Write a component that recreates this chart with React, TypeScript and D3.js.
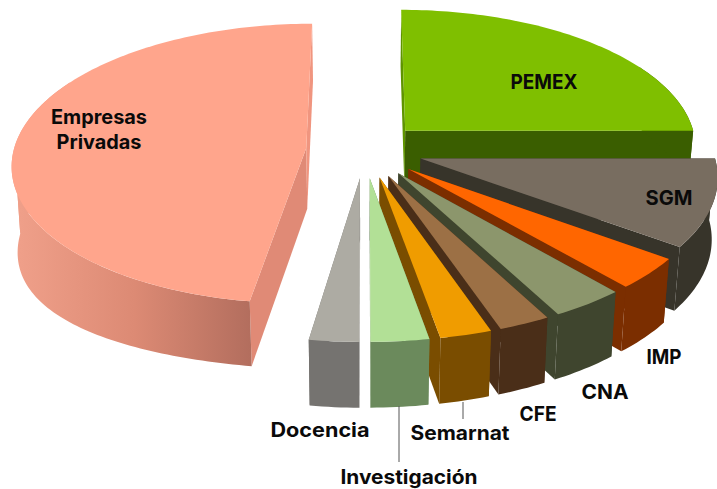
import React from "react";
import * as d3 from "d3";

const categories = ["PEMEX", "SGM", "IMP", "CNA", "CFE", "Semarnat", "Investigación", "Docencia", "Empresas Privadas"];
const shares = [25, 10, 3.6, 3.6, 2.5, 2.5, 2.8, 2.4, 47.6];
const topColors = ["#7fbf00", "#786d60", "#ff6600", "#8c966c", "#9c7045", "#f09c00", "#b2e096", "#adaba3", "#ffa58c"];
const wallColors = ["#3a5e00", "#37342a", "#7b2e00", "#3f452e", "#4a2e18", "#7a4d00", "#6b8a5c", "#757370", "url(#empresasWall)"];
const startFaceColors = ["#5f9400", "#37342a", "#7b2e00", "#3f452e", "#4a2e18", "#7a4d00", "#6b8a5c", "#757370", "#e08a76"];
const endFaceColors = ["#3a5e00", "#37342a", "#7b2e00", "#3f452e", "#4a2e18", "#7a4d00", "#6b8a5c", "#757370", "#f0957f"];

const W = 717, H = 489;
const cx = 364.5, cy = 150;
const A = 292.5, B = 138.5, persp = 0.112, explode = 0.2;
const depth = 61, depthGrow = 4, shrink = 0.017;
const leftDroop = 25; // the photographed solid hangs lower on its far-left side
const LABEL_FONT = "Inter, Lato, sans-serif";

const arcs = d3.pie<number>().sort(null).value((d) => d)(shares);

type P = [number, number];
function project(U: number, V: number, t: number): P {
  const s = 1 / (1 - persp * V);
  const k = Math.max(0, (-U - 0.35) / 0.85);
  return [cx + A * U * s * (1 - shrink * t), cy + B * V * s + t * (depth + depthGrow * V + leftDroop * k * k)];
}

const line = d3.line<P>().x((d) => d[0]).y((d) => d[1]);

function slicePaths(a0: number, a1: number) {
  const mid = (a0 + a1) / 2;
  const ox = explode * Math.sin(mid), oy = -explode * Math.cos(mid);
  const rim = (a: number, t: number) => project(ox + Math.sin(a), oy - Math.cos(a), t);
  const apex = (t: number) => project(ox, oy, t);
  const sample = (from: number, to: number) => {
    const n = Math.max(4, Math.ceil((to - from) / 0.02));
    return d3.range(n + 1).map((i) => from + ((to - from) * i) / n);
  };
  const angles = sample(a0, a1);
  const top = line([apex(0), ...angles.map((a) => rim(a, 0))]) + "Z";
  // only the front of the rim shows a wall; it is cut where its outline turns,
  // so that its two parts do not cancel out under the fill rule
  const w0 = Math.max(a0, Math.PI / 3), w1 = Math.min(a1, (5 * Math.PI) / 3);
  const cuts = [w0, ...[Math.PI / 2, (3 * Math.PI) / 2].filter((c) => c > w0 && c < w1), w1];
  const walls = d3.pairs(cuts).map(([p, q]) => {
    const seg = sample(p, q);
    return line([...seg.map((a) => rim(a, 0)), ...[...seg].reverse().map((a) => rim(a, 1))]) + "Z";
  });
  const face = (a: number) => line([apex(0), rim(a, 0), rim(a, 1), apex(1)]) + "Z";
  return { top, walls, startFace: face(a0), endFace: face(a1) };
}

const paintOrder = [0, 8, 1, 2, 3, 4, 5, 6, 7];

const labels: { text: string; x: number; y: number; w: number }[] = [
  { text: "PEMEX", x: 544, y: 89, w: 67 },
  { text: "SGM", x: 669, y: 205, w: 47 },
  { text: "IMP", x: 664, y: 364, w: 35 },
  { text: "CNA", x: 605, y: 399, w: 47 },
  { text: "CFE", x: 538, y: 421, w: 37 },
  { text: "Semarnat", x: 460, y: 440, w: 99 },
  { text: "Investigación", x: 409, y: 484, w: 137 },
  { text: "Docencia", x: 320, y: 437, w: 99 },
  { text: "Empresas", x: 99, y: 124, w: 96 },
  { text: "Privadas", x: 99, y: 149, w: 85 },
];

export default function App() {
  return (
    <svg width={W} height={H} viewBox={`0 0 ${W} ${H}`} style={{ position: "fixed", left: 0, top: 0, background: "#fff" }}>
      <defs>
        <linearGradient id="empresasWall" gradientUnits="userSpaceOnUse" x1={20} x2={250} y1={0} y2={0}>
          <stop offset="0" stopColor="#ef9f89" />
          <stop offset="0.5" stopColor="#dc8a74" />
          <stop offset="1" stopColor="#b36e5e" />
        </linearGradient>
      </defs>
      {paintOrder.map((i) => {
        const p = slicePaths(arcs[i].startAngle, arcs[i].endAngle);
        return (
          <g key={categories[i]}>
            <path d={p.startFace} fill={startFaceColors[i]} />
            <path d={p.endFace} fill={endFaceColors[i]} />
            {p.walls.map((d, k) => (
              <path key={k} d={d} fill={wallColors[i]} />
            ))}
            <path d={p.top} fill={topColors[i]} />
          </g>
        );
      })}
      <line x1={463} x2={463} y1={402} y2={419} stroke="#555" strokeWidth={1} />
      <line x1={399} x2={399} y1={406} y2={462} stroke="#555" strokeWidth={1} />
      {labels.map((l) => (
        <text key={l.text} x={l.x} y={l.y} textAnchor="middle" textLength={l.w} lengthAdjust="spacingAndGlyphs" fontFamily={LABEL_FONT} fontWeight={700} fontSize={20} fill="#0a0a0a">
          {l.text}
        </text>
      ))}
    </svg>
  );
}
